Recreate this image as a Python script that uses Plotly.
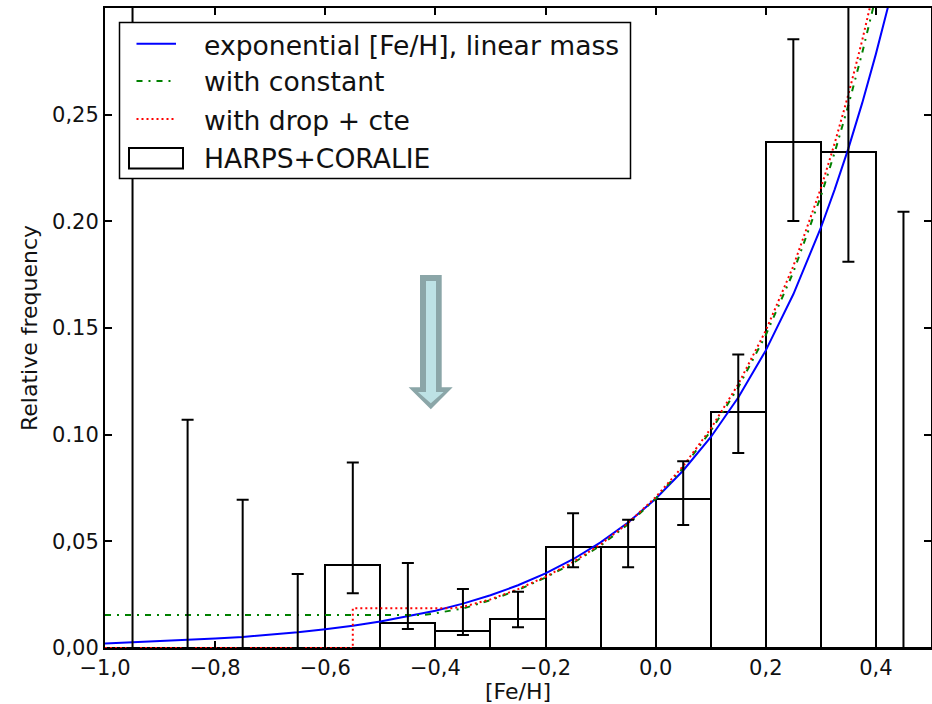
import plotly.graph_objects as go

# ---------------- data ----------------
bin_centers = [-0.95, -0.85, -0.75, -0.65, -0.55, -0.45, -0.35, -0.25,
               -0.15, -0.05, 0.05, 0.15, 0.25, 0.35, 0.45]
rel_freq = [0.0, 0.0, 0.0, 0.0, 0.039, 0.0118, 0.0081, 0.0135,
            0.0474, 0.0474, 0.0699, 0.1107, 0.2373, 0.2327, 0.0]
err_top = [0.36, 0.107, 0.0695, 0.0347, 0.0869, 0.0398, 0.0276, 0.0264,
           0.0632, 0.0601, 0.0875, 0.1376, 0.2854, 0.36, 0.2045]
err_bottom = [0.0, 0.0, 0.0, 0.0, 0.0257, 0.0089, 0.0061, 0.0097,
              0.0379, 0.0379, 0.0577, 0.0914, 0.2001, 0.1811, 0.0]

exp_x = [-1.0, -0.95, -0.9, -0.85, -0.8, -0.75, -0.7, -0.65, -0.6, -0.55,
         -0.5, -0.45, -0.4, -0.35, -0.3, -0.25, -0.2, -0.15, -0.1, -0.05,
         0.0, 0.05, 0.1, 0.15, 0.2, 0.25, 0.3, 0.325, 0.35, 0.375, 0.4,
         0.425, 0.45]
exp_y = [0.0021, 0.0026, 0.0031, 0.0037, 0.0044, 0.0052, 0.0062, 0.0074,
         0.0088, 0.0104, 0.0124, 0.0148, 0.0175, 0.0208, 0.0247, 0.0294,
         0.0350, 0.0416, 0.0495, 0.0588, 0.0700, 0.0832, 0.0988, 0.1174,
         0.1395, 0.1658, 0.1970, 0.2149, 0.2342, 0.2554, 0.2785, 0.3036,
         0.3310]

const_x = [-1.0, -0.42, -0.4, -0.35, -0.3, -0.25, -0.2, -0.15, -0.1, -0.05,
           0.0, 0.05, 0.1, 0.15, 0.2, 0.25, 0.3, 0.325, 0.35, 0.375, 0.4]
const_y = [0.0155, 0.0155, 0.0163, 0.0185, 0.0224, 0.0272, 0.0330, 0.0398,
           0.0480, 0.0580, 0.0700, 0.0845, 0.1017, 0.1222, 0.1467, 0.1762,
           0.2118, 0.2322, 0.2545, 0.2789, 0.3055]

drop_x = [-1.0, -0.55, -0.55, -0.37, -0.35, -0.3, -0.25, -0.2, -0.15, -0.1,
          -0.05, 0.0, 0.05, 0.1, 0.15, 0.2, 0.25, 0.3, 0.325, 0.35, 0.375,
          0.4]
drop_y = [0.0, 0.0, 0.0186, 0.0186, 0.0193, 0.0228, 0.0276, 0.0334, 0.0403,
          0.0486, 0.0586, 0.0707, 0.0853, 0.1028, 0.1237, 0.1488, 0.1790,
          0.2155, 0.2365, 0.2595, 0.2848, 0.3125]

x_tickvals = [-1.0, -0.8, -0.6, -0.4, -0.2, 0.0, 0.2, 0.4]
x_ticktext = ["\u22121,0", "\u22120,8", "\u22120,6", "\u22120,4", "\u22120,2",
              "0,0", "0,2", "0,4"]
y_tickvals = [0.0, 0.05, 0.10, 0.15, 0.20, 0.25]
y_ticktext = ["0,00", "0,05", "0.10", "0.15", "0.20", "0,25"]

legend_labels = ["exponential [Fe/H], linear mass", "with constant",
                 "with drop + cte", "HARPS+CORALIE"]

# ---------------- figure ----------------
W, H = 932, 704
L, R, T, B = 105, 931, 8, 648
FONT = "DejaVu Sans"


def px(x):
    return (x - L) / (R - L)


def py(y):
    return (B - y) / (B - T)


fig = go.Figure()

fig.add_trace(go.Bar(
    x=bin_centers, y=rel_freq, width=0.1,
    marker=dict(color="rgba(255,255,255,0)", line=dict(color="black", width=2)),
    showlegend=False, hoverinfo="skip"))

fig.add_trace(go.Scatter(
    x=exp_x, y=exp_y, mode="lines",
    line=dict(color="#0000ff", width=2), showlegend=False))
fig.add_trace(go.Scatter(
    x=const_x, y=const_y, mode="lines",
    line=dict(color="#008000", width=2, dash="6px,6px,2px,6px"),
    showlegend=False))
fig.add_trace(go.Scatter(
    x=drop_x, y=drop_y, mode="lines",
    line=dict(color="#ff0000", width=2, dash="2px,3px"),
    showlegend=False, cliponaxis=False))

fig.add_trace(go.Scatter(
    x=bin_centers, y=rel_freq, mode="markers",
    marker=dict(size=1, color="rgba(0,0,0,0)"),
    error_y=dict(type="data", symmetric=False,
                 array=[t - h for t, h in zip(err_top, rel_freq)],
                 arrayminus=[h - b for h, b in zip(rel_freq, err_bottom)],
                 color="black", thickness=2, width=6),
    showlegend=False, hoverinfo="skip"))

axis_common = dict(
    showline=True, linecolor="black", linewidth=2, mirror="ticks",
    ticks="inside", ticklen=7, tickwidth=2, tickcolor="black",
    showgrid=False, zeroline=False, automargin=False,
    tickfont=dict(family=FONT, size=21, color="#111111"),
)

fig.update_xaxes(range=[-1.0, 0.5], tickvals=x_tickvals, ticktext=x_ticktext,
                 title=dict(text="[Fe/H]", font=dict(family=FONT, size=22, color="#111111"),
                            standoff=4),
                 **axis_common)
fig.update_yaxes(range=[0.0, 0.30], tickvals=y_tickvals, ticktext=y_ticktext,
                 title=dict(text="Relative frequency",
                            font=dict(family=FONT, size=22, color="#111111"),
                            standoff=8),
                 **axis_common)

shapes = []
# arrow (outline + fill)
outer = [(420, 275), (441.7, 275), (441.7, 387.3), (452.7, 387.3),
         (430.8, 409.3), (408.6, 387.3), (420, 387.3)]
inner = [(426, 281), (436, 281), (436, 392), (443.6, 392),
         (430.8, 403.3), (418, 392), (426, 392)]


def path(pts):
    s = "M " + " L ".join(f"{px(a):.5f},{py(b):.5f}" for a, b in pts) + " Z"
    return s


shapes.append(dict(type="path", path=path(outer), xref="paper", yref="paper",
                   fillcolor="#8ba6a8", line=dict(width=0), layer="above"))
shapes.append(dict(type="path", path=path(inner), xref="paper", yref="paper",
                   fillcolor="#bde2e5", line=dict(width=0), layer="above"))

# legend box
shapes.append(dict(type="rect", xref="paper", yref="paper",
                   x0=px(119.5), x1=px(630.5), y0=py(178.5), y1=py(22.5),
                   fillcolor="white", line=dict(color="black", width=1.5),
                   layer="above"))
shapes.append(dict(type="line", xref="paper", yref="paper",
                   x0=px(136.5), x1=px(176), y0=py(43.7), y1=py(43.7),
                   line=dict(color="#0000ff", width=2), layer="above"))
shapes.append(dict(type="line", xref="paper", yref="paper",
                   x0=px(136.5), x1=px(176), y0=py(81), y1=py(81),
                   line=dict(color="#008000", width=2, dash="6px,6px,2px,6px"),
                   layer="above"))
shapes.append(dict(type="line", xref="paper", yref="paper",
                   x0=px(136.5), x1=px(176), y0=py(119), y1=py(119),
                   line=dict(color="#ff0000", width=2, dash="2px,3px"),
                   layer="above"))
shapes.append(dict(type="rect", xref="paper", yref="paper",
                   x0=px(129), x1=px(183), y0=py(168.5), y1=py(148),
                   fillcolor="white", line=dict(color="black", width=2),
                   layer="above"))

annotations = []
for lab, yc in zip(legend_labels, [45, 82, 120, 158]):
    annotations.append(dict(text=lab, xref="paper", yref="paper",
                            x=px(202), y=py(yc), xanchor="left", yanchor="middle",
                            showarrow=False,
                            font=dict(family=FONT, size=26.6, color="#111111")))

fig.update_layout(
    width=W, height=H,
    margin=dict(l=L, r=W - R, t=T, b=H - B),
    paper_bgcolor="white", plot_bgcolor="white",
    bargap=0, shapes=shapes, annotations=annotations,
    showlegend=False,
)

fig.write_html("out.html")
